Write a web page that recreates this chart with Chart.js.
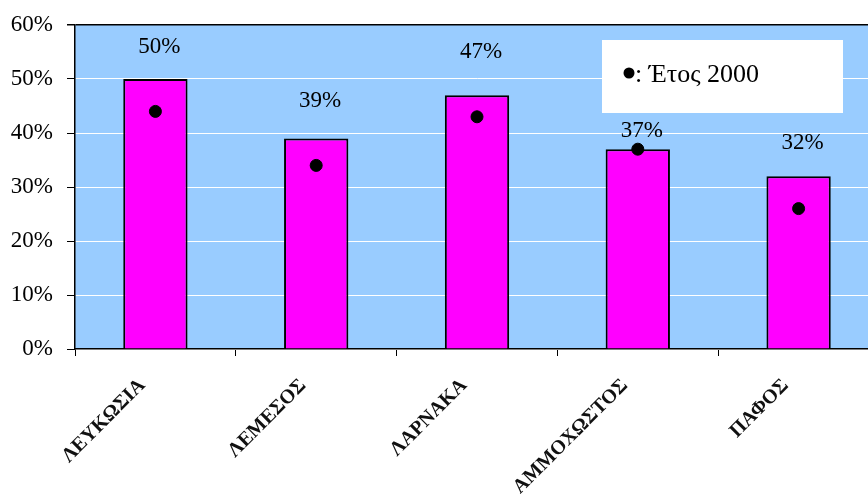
<!DOCTYPE html>
<html>
<head>
<meta charset="utf-8">
<script src="https://cdn.jsdelivr.net/npm/chart.js@4/dist/chart.umd.min.js"></script>
<style>
  html, body { margin: 0; padding: 0; background: #fff; overflow: hidden; width: 868px; height: 501px; }
  #wrap { width: 886px; height: 501px; }
</style>
</head>
<body>
<div id="wrap"><canvas id="c" width="886" height="501"></canvas></div>
<script>
const categories = ['ΛΕΥΚΩΣΙΑ', 'ΛΕΜΕΣΟΣ', 'ΛΑΡΝΑΚΑ', 'ΑΜΜΟΧΩΣΤΟΣ', 'ΠΑΦΟΣ'];
const currentValues = [50, 39, 47, 37, 32];
const year2000Values = [44, 34, 43, 37, 26];
const yTickValues = [0, 10, 20, 30, 40, 50, 60];
const legendText = ': Έτος 2000';

const FONT = "'Liberation Serif', 'Times New Roman', serif";
const labelOffsets = [32, 37, 43, 18, 33];

const bgPlugin = {
  id: 'bg',
  beforeDraw(chart) {
    const a = chart.chartArea, ctx = chart.ctx;
    ctx.save();
    ctx.fillStyle = '#99CCFF';
    ctx.fillRect(a.left, a.top, a.right - a.left, a.bottom - a.top);
    ctx.restore();
  }
};

const labelPlugin = {
  id: 'valLabels',
  afterDatasetsDraw(chart) {
    const ctx = chart.ctx;
    const meta = chart.getDatasetMeta(1);
    ctx.save();
    ctx.font = '23px ' + FONT;
    ctx.fillStyle = '#000';
    ctx.textAlign = 'center';
    ctx.textBaseline = 'middle';
    meta.data.forEach((bar, i) => {
      ctx.fillText(currentValues[i] + '%', bar.x + 4, bar.y - labelOffsets[i]);
    });
    ctx.restore();
  }
};

const legendPlugin = {
  id: 'legendBox',
  afterDraw(chart) {
    const a = chart.chartArea, ctx = chart.ctx;
    const x = a.left + 527, y = a.top + 15, w = 241, h = 73;
    ctx.save();
    ctx.fillStyle = '#fff';
    ctx.fillRect(x, y, w, h);
    ctx.fillStyle = '#000';
    ctx.beginPath();
    ctx.arc(x + 27, y + 33, 5.5, 0, Math.PI * 2);
    ctx.fill();
    ctx.font = '26px ' + FONT;
    ctx.textBaseline = 'middle';
    ctx.textAlign = 'left';
    ctx.fillText(legendText, x + 33, y + 35);
    ctx.restore();
  }
};

new Chart(document.getElementById('c'), {
  type: 'bar',
  data: {
    labels: categories,
    datasets: [
      {
        type: 'line',
        data: year2000Values,
        showLine: false,
        pointRadius: 6,
        pointHoverRadius: 6,
        pointBackgroundColor: '#000',
        pointBorderColor: '#000',
        order: 0
      },
      {
        type: 'bar',
        data: currentValues,
        backgroundColor: '#FF00FF',
        borderColor: '#000',
        borderWidth: 2,
        barPercentage: 0.4,
        categoryPercentage: 1,
        order: 1
      }
    ]
  },
  options: {
    responsive: false,
    animation: false,
    events: [],
    layout: { padding: { top: 25, left: 0, right: 0, bottom: 0 } },
    plugins: { legend: { display: false }, tooltip: { enabled: false } },
    scales: {
      x: {
        offset: true,
        grid: { offset: true, drawOnChartArea: false, tickLength: 7, tickColor: '#000' },
        border: { color: '#000', width: 1.5 },
        ticks: {
          maxRotation: 45, minRotation: 45,
          font: { family: FONT, size: 20, weight: 'bold' },
          color: '#111',
          padding: 18,
          labelOffset: -13
        },
        afterFit(s) { s.height = 152; s.paddingLeft = 0; s.paddingRight = 0; }
      },
      y: {
        min: 0, max: 60,
        afterBuildTicks(s) { s.ticks = yTickValues.map(v => ({ value: v })); },
        grid: {
          color: c => (c.tick && c.tick.value === 60) ? '#000' : '#fff',
          lineWidth: c => (c.tick && c.tick.value === 60) ? 1.5 : 1,
          tickLength: 8,
          tickColor: '#000'
        },
        border: { color: '#000', width: 1.5 },
        ticks: {
          callback: v => v + '%',
          font: { family: FONT, size: 23 },
          color: '#000',
          padding: 14
        },
        afterFit(s) { s.width = 75; s.paddingTop = 0; s.paddingBottom = 0; }
      }
    }
  },
  plugins: [bgPlugin, labelPlugin, legendPlugin]
});
</script>
</body>
</html>
